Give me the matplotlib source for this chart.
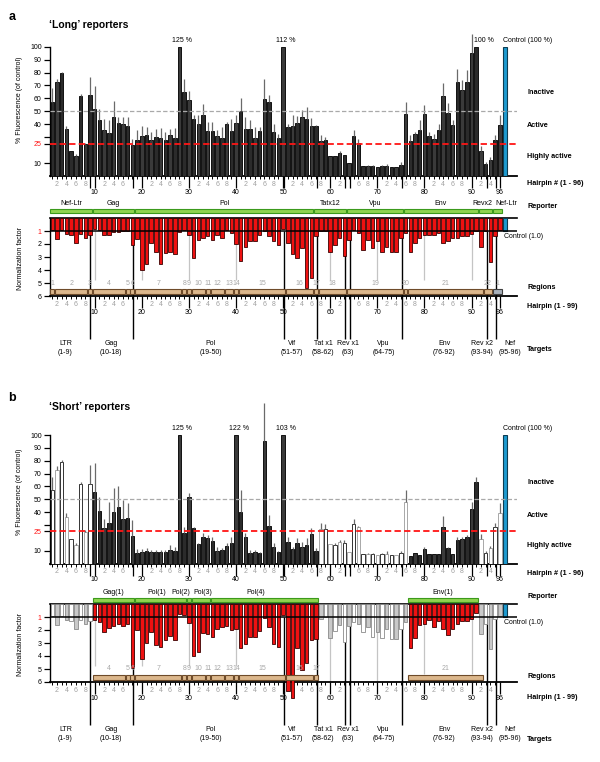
import numpy as np
import matplotlib
matplotlib.use("Agg")
import matplotlib.pyplot as plt
from matplotlib.patches import Rectangle
from matplotlib.transforms import blended_transform_factory as blend

plt.rcParams['font.family'] = ['Liberation Sans', 'DejaVu Sans']
plt.rcParams['font.size'] = 5

# ---------------- data ----------------
hairpins = np.arange(1, 97)

long_fluor = [57.3, 72.8, 79.3, 36.6, 19.3, 15.2, 62.0, 25.0, 62.5, 52.0,
              43.0, 35.3, 33.5, 45.7, 41.0, 40.0, 39.0, 23.7, 27.6, 30.7,
              32.0, 28.0, 30.2, 29.7, 27.6, 31.5, 29.4, 125.0, 65.0, 58.6,
              44.0, 40.5, 47.2, 34.6, 34.6, 30.7, 29.7, 40.0, 34.6, 41.3,
              50.0, 36.4, 36.0, 29.4, 34.6, 59.6, 57.3, 33.8, 29.4, 112.0,
              38.0, 38.7, 41.0, 45.7, 43.9, 38.5, 38.5, 26.8, 27.6, 15.4,
              15.2, 18.0, 16.0, 10.0, 30.7, 25.5, 7.4, 7.4, 7.4, 6.9,
              7.4, 7.9, 6.9, 6.9, 8.2, 48.3, 26.8, 32.8, 35.3, 48.3,
              30.7, 28.9, 35.9, 61.7, 49.0, 39.2, 72.8, 66.4, 72.8, 94.8,
              100.0, 19.3, 9.0, 12.0, 28.0, 39.2]
long_err = [10.4, 2.6, 1.3, 2.4, 0, 1.5, 1.8, 0.5, 14.2, 17.5,
            9.0, 8.7, 9.5, 12.3, 4.7, 6.0, 6.7, 5.2, 7.7, 7.8,
            6.0, 6.0, 6.4, 7.7, 6.2, 5.1, 7.8, 0, 10.4, 7.0,
            3.0, 6.5, 8.8, 7.2, 7.2, 4.6, 8.3, 1.8, 9.4, 5.7,
            10.0, 9.6, 7.0, 8.6, 3.4, 15.1, 5.7, 6.2, 3.4, 0,
            2.5, 8.3, 5.2, 5.3, 9.6, 6.0, 0.8, 5.2, 2.6, 0,
            0, 1.0, 0, 0, 4.6, 3.4, 0, 1.1, 1.1, 0,
            1.1, 1.1, 0, 0, 2.6, 9.0, 4.7, 1.3, 7.7, 6.4,
            3.4, 3.9, 4.6, 9.9, 7.6, 3.8, 9.6, 7.6, 9.2, 15.2,
            0, 3.7, 1.8, 2.6, 4.0, 7.8]
long_norm = [0.9, 1.63, 0.9, 1.2, 1.3, 1.9, 1.2, 1.5, 1.3, 0.85,
             0.9, 1.3, 1.3, 1.1, 1.1, 1.03, 1.03, 2.07, 1.63, 4.0,
             3.5, 1.9, 2.6, 3.5, 2.7, 2.6, 2.8, 1.1, 0.9, 1.3,
             3.1, 1.7, 1.55, 1.4, 1.7, 1.3, 1.5, 0.9, 1.15, 2.0,
             3.3, 2.25, 1.8, 1.8, 1.3, 1.03, 1.37, 1.75, 2.07, 0.85,
             1.95, 2.8, 3.1, 2.3, 5.4, 4.6, 1.4, 1.03, 1.03, 2.6,
             2.1, 1.5, 2.9, 1.7, 0.9, 1.15, 2.45, 1.7, 2.3, 1.8,
             2.6, 2.2, 2.65, 2.65, 1.5, 1.15, 2.65, 1.9, 1.5, 1.3,
             1.3, 1.3, 1.15, 1.9, 1.8, 1.55, 1.5, 1.4, 1.37, 1.2,
             1.03, 2.2, 1.03, 3.35, 1.4, 0.9]

short_fluor = [57.2, 72.8, 79.3, 36.0, 18.8, 14.4, 61.6, 24.8, 61.9, 56.0,
               40.9, 27.4, 31.3, 40.3, 44.2, 34.4, 35.7, 21.4, 8.4, 8.7,
               10.0, 9.2, 8.7, 9.2, 8.7, 10.5, 10.0, 125.0, 24.0, 51.5,
               27.4, 15.2, 20.4, 20.0, 17.5, 9.7, 10.5, 13.6, 15.7, 122.0,
               39.8, 20.9, 8.4, 8.7, 8.4, 95.6, 29.2, 12.6, 9.2, 103.0,
               16.5, 11.5, 15.7, 13.1, 14.4, 23.0, 9.7, 26.6, 26.6, 14.9,
               14.4, 17.0, 15.7, 9.2, 30.5, 28.4, 7.1, 7.1, 7.1, 6.6,
               7.1, 7.4, 6.6, 6.6, 7.9, 47.6, 6.1, 7.9, 6.6, 11.0,
               7.4, 7.4, 7.4, 28.7, 12.3, 7.4, 18.3, 19.1, 20.4, 42.2,
               63.2, 18.8, 7.9, 11.8, 28.2, 39.0]
short_err = [10.4, 3.0, 1.3, 3.1, 0, 1.8, 2.1, 1.3, 14.7, 22.0,
             11.1, 7.6, 16.7, 18.2, 16.1, 15.0, 11.1, 12.5, 2.6, 2.3,
             1.8, 1.3, 1.8, 1.3, 1.8, 3.9, 3.0, 0, 4.7, 3.5,
             1.3, 0.5, 3.1, 2.0, 3.4, 3.3, 1.8, 2.1, 5.2, 0,
             17.2, 2.6, 2.1, 1.8, 0.3, 29.0, 8.5, 3.1, 0.5, 0,
             4.4, 1.5, 4.3, 3.9, 5.2, 4.4, 2.1, 4.7, 4.2, 0,
             1.3, 1.3, 2.6, 0, 4.1, 0.6, 0, 0.8, 0.8, 0,
             0.8, 2.1, 0, 0, 2.1, 9.6, 0, 0, 0, 2.1,
             0, 0, 0, 8.3, 0.8, 0, 2.6, 1.8, 1.8, 5.9,
             3.8, 3.9, 2.1, 2.1, 3.6, 7.8]
short_norm = [0.9, 1.6, 0.9, 1.2, 1.3, 1.9, 1.2, 1.5, 1.3, 1.26,
              1.4, 2.16, 1.85, 1.67, 1.55, 1.73, 1.5, 4.95, 2.0, 4.2,
              3.0, 2.16, 3.17, 3.3, 2.76, 2.45, 2.8, 0.77, 0.88, 1.47,
              4.0, 3.66, 2.2, 2.3, 2.55, 1.93, 1.8, 1.73, 2.0, 1.9,
              3.35, 3.07, 2.55, 2.5, 2.06, 1.08, 1.8, 3.1, 3.3, 0.82,
              6.67, 7.2, 3.4, 5.1, 4.5, 2.8, 2.7, 1.16, 1.0, 2.65,
              2.1, 1.6, 2.9, 1.7, 1.4, 1.5, 2.15, 1.75, 2.5, 2.15,
              2.65, 1.9, 2.7, 2.7, 1.9, 1.4, 3.4, 2.65, 1.6, 1.57,
              1.24, 1.75, 1.3, 1.9, 2.35, 1.9, 1.5, 1.3, 1.3, 1.16,
              0.72, 2.27, 1.5, 3.43, 1.16, 0.9]

control_fluor = 100.0
control_norm = 1.0

long_reporters = [("Nef-Ltr", 1, 9), ("Gag", 10, 18), ("Pol", 19, 56), ("Tatx12", 57, 63),
                  ("Vpu", 64, 75), ("Env", 76, 91), ("Revx2", 92, 94), ("Nef-Ltr", 95, 96)]
short_reporters = [("Gag(1)", 10, 18), ("Pol(1)", 19, 29), ("Pol(2)", 30, 30), ("Pol(3)", 31, 34),
                   ("Pol(4)", 35, 57), ("Env(1)", 77, 91)]

long_regions = [("1", 1, 1), ("2", 2, 8), ("3", 9, 9), ("4", 10, 16), ("5", 17, 17), ("6", 18, 18),
                ("7", 19, 28), ("8", 29, 29), ("9", 30, 30), ("10", 31, 33), ("11", 34, 34),
                ("12", 35, 37), ("13", 38, 39), ("14", 40, 40), ("15", 41, 50), ("16", 51, 56),
                ("17", 57, 57), ("18", 58, 63), ("19", 64, 75), ("20", 76, 76), ("21", 77, 92),
                ("22", 93, 94), ("1", 95, 96)]
short_regions = [("4", 10, 16), ("5", 17, 17), ("6", 18, 18), ("7", 19, 28), ("8", 29, 29),
                 ("9", 30, 30), ("10", 31, 33), ("11", 34, 34), ("12", 35, 37), ("13", 38, 39),
                 ("14", 40, 40), ("15", 41, 50), ("16", 51, 56), ("17", 57, 57), ("21", 77, 92)]

target_names = ["LTR", "Gag", "Pol", "Vif", "Tat x1", "Rev x1", "Vpu", "Env", "Rev x2", "Nef"]
target_ranges = ["(1-9)", "(10-18)", "(19-50)", "(51-57)", "(58-62)", "(63)", "(64-75)",
                 "(76-92)", "(93-94)", "(95-96)"]

# ---------------- layout (pixels) ----------------
W, H = 600, 762
fig = plt.figure(figsize=(6, 7.62), dpi=100)

def n_at(x):
    return 10 + (x - 94.7) / 4.71

XL, XR = 50, 517
XMIN, XMAX = n_at(XL), n_at(XR)
CTRL_X = 97.1
BW = 0.74
target_lines = [9.1, 18.1, 50.1, 57.3, 63.2, 64.2, 75.3, 93.2, 95.2]
target_text_x = [3.8, 13.5, 34.6, 51.8, 58.5, 63.7, 71.3, 84.2, 92.3, 98.2]
long_rep_label_x = {6: 92.3, 7: 97.4}
short_rep_label_x = {1: 23.2, 2: 28.3, 3: 32.9, 4: 44.2}

def axes_px(t, b):
    return fig.add_axes([XL / W, 1 - b / H, (XR - XL) / W, (b - t) / H])

def ftext(x, y, s, **kw):
    fig.text(x / W, 1 - y / H, s, **kw)

MAJ = [10, 20, 30, 40, 50, 60, 70, 80, 90, 96]
SKIP = {18, 64}

def setup_x(ax):
    ax.set_xlim(XMIN, XMAX)
    minors = [n for n in range(1, 97) if n not in MAJ]
    ax.set_xticks(MAJ)
    ax.set_xticklabels([str(m) for m in MAJ])
    ax.set_xticks(minors, minor=True)
    ax.set_xticklabels([str(n % 10) if (n % 2 == 0 and n not in SKIP) else '' for n in minors],
                       minor=True)
    ax.tick_params(axis='x', which='major', length=8.6, width=0.9, pad=0.4, labelsize=5,
                   labelcolor='black', direction='out')
    ax.tick_params(axis='x', which='minor', length=2.4, width=0.7, pad=0.9, labelsize=5,
                   labelcolor='#a0a0a0', direction='out')

def draw_top(t100, t0, fluor, err, dark, pct_dx):
    ax = axes_px(t100, t0)
    upp = (t0 - t100) / 100.0
    vals = np.array(fluor, float)
    shown = np.minimum(vals, 100)
    e = np.array(err, float)
    fills, edges = [], []
    for n, d in zip(hairpins, dark):
        if d:
            fills.append('#2b2b2b' if n % 2 else '#3a3a3a')
            edges.append('#111111')
        else:
            fills.append('white')
            edges.append('#333333' if n % 2 else '#a8a8a8')
    ax.bar(hairpins, shown, width=BW, color=fills, edgecolor=edges, linewidth=0.7, zorder=3)
    m = e > 0
    ax.vlines(hairpins[m], shown[m], shown[m] + e[m], colors='#6a6a6a', lw=0.9, zorder=3.5,
              clip_on=False)
    ax.bar([CTRL_X], [control_fluor], width=BW, color='#1d9bd0', edgecolor='#0d3d52',
           linewidth=0.8, zorder=3)
    ax.axhline(50, color='#a9a9a9', ls=(0, (3.5, 1.8)), lw=0.9, zorder=4)
    ax.axhline(25, color='#ff1515', ls=(0, (3.5, 1.8)), lw=1.3, zorder=4)
    ax.set_ylim(0, 100)
    for s in ['top', 'right']:
        ax.spines[s].set_visible(False)
    ax.spines['left'].set_linewidth(1.0)
    ax.spines['bottom'].set_linewidth(1.3)
    ax.set_yticks([10, 25, 30, 40, 50, 60, 70, 80, 90, 100])
    ax.set_yticklabels(['10', '25', '', '40', '50', '60', '70', '80', '90', '100'])
    ax.get_yticklabels()[1].set_color('#ff1515')
    ax.tick_params(axis='y', length=4.2, width=0.9, pad=1.8, labelsize=5)
    setup_x(ax)
    ax.vlines(target_lines, 0, -12.3 / upp, colors='k', lw=0.9, clip_on=False, zorder=2)
    ly = 100 + 6.0 / upp
    for n, v in zip(hairpins, vals):
        if v >= 100:
            ax.text(n + pct_dx.get(int(n), 0.6), ly, f"{v:.0f} %", ha='center', va='center',
                    fontsize=5)
    ax.text(n_at(502.7), ly, "Control (100 %)", ha='left', va='center', fontsize=5)
    return ax

def draw_bottom(b0, b6, norm, red, reporters, rep_lx, regions, rep_label, rep_box, gray_ends):
    ax = axes_px(b0, b6)
    v = np.array(norm, float)
    fills, edges = [], []
    for n, r in zip(hairpins, red):
        if r:
            fills.append('#ee1111')
            edges.append('#3a0000')
        else:
            fills.append('white' if n % 2 else '#c9c9c9')
            edges.append('#8a8a8a')
    ax.bar(hairpins, v, width=BW, color=fills, edgecolor=edges, linewidth=0.6, zorder=3,
           clip_on=False)
    ax.bar([CTRL_X], [control_norm], width=BW, color='#1d9bd0', edgecolor='#0d3d52',
           linewidth=0.8, zorder=3)
    ax.set_ylim(6, 0)
    ax.axhline(1, color='k', lw=1.1, zorder=4)
    ax.spines['right'].set_visible(False)
    ax.spines['top'].set_linewidth(1.2)
    ax.spines['left'].set_linewidth(1.0)
    ax.spines['bottom'].set_linewidth(1.3)
    ax.set_yticks([1, 2, 3, 4, 5, 6])
    ax.get_yticklabels()[0].set_color('#ff1515')
    ax.tick_params(axis='y', length=4.2, width=0.9, pad=1.8, labelsize=5)
    setup_x(ax)
    for x, end in gray_ends:
        ax.vlines([x], 1, end, colors='#c4c4c4', lw=0.9, zorder=1)
    ax.vlines(target_lines, 1, 9.3, colors='k', lw=1.0, zorder=1, clip_on=False)
    # reporter boxes
    for i, (name, s, e) in enumerate(reporters):
        ax.add_patch(Rectangle((s - 0.4, rep_box - 0.16), e - s + 0.8, 0.32, facecolor='#8fd44f',
                               edgecolor='#3b9a1c', lw=0.8, clip_on=False, zorder=5))
        ax.text(rep_lx.get(i, (s + e) / 2), rep_label, name, ha='center', va='center',
                fontsize=5, zorder=5)
    # region boxes
    for name, s, e in regions:
        last_gray = (name == "1" and s > 90)
        ax.add_patch(Rectangle((s - 0.4, 5.62 - 0.19), e - s + 0.8, 0.38,
                               facecolor='#a7b0ba' if last_gray else '#dcb78c',
                               edgecolor='#3f3f3f' if last_gray else '#6e4b2a', lw=0.8,
                               clip_on=False, zorder=5))
        ax.text((s + e) / 2, 5.0, name, ha='center', va='center', fontsize=5,
                color='#a8a8a8', zorder=5)
    ax.text(n_at(504), 1.42, "Control (1.0)", ha='left', va='center', fontsize=5)
    for x, nm, rg in zip(target_text_x, target_names, target_ranges):
        ax.text(x, 10.0, nm + "\n" + rg, ha='center', va='center', fontsize=5,
                linespacing=1.25, clip_on=False)
    return ax

# ---------------- panel a ----------------
dark_a = [True] * 96
draw_top(46.7, 176, long_fluor, long_err, dark_a, {91: 1.7})
red_a = [True] * 96
gray_a = [(10, 4.8), (20, 4.8), (30, 4.8), (40, 4.8), (60, 4.8), (70, 4.8), (80, 4.8), (90, 4.8)]
draw_bottom(218, 296, long_norm, red_a, long_reporters, long_rep_label_x, long_regions,
            -1.08, -0.54, gray_a)

# ---------------- panel b ----------------
def in_rep(n, reps):
    return any(s <= n <= e for _, s, e in reps)
dark_b = [in_rep(n, short_reporters) for n in hairpins]
draw_top(435, 563.5, short_fluor, short_err, dark_b, {})
gray_b = [(10, 4.8), (20, 4.8), (30, 4.8), (40, 4.8), (60, 6.0), (70, 6.0), (80, 5.4), (90, 5.4)]
draw_bottom(604, 682, short_norm, dark_b, short_reporters, short_rep_label_x, short_regions,
            -0.92, -0.33, gray_b)

# ---------------- texts ----------------
ftext(12.3, 16.7, "a", fontsize=9, fontweight='bold', ha='center', va='center')
ftext(49, 24.7, "\u2018Long\u2019 reporters", fontsize=7.5, fontweight='bold', ha='left', va='center')
ftext(12.3, 398, "b", fontsize=9, fontweight='bold', ha='center', va='center')
ftext(49, 406.5, "\u2018Short\u2019 reporters", fontsize=7.5, fontweight='bold', ha='left', va='center')

ftext(20, 100, "% Fluorescence (of control)", rotation=90, ha='center', va='center', fontsize=5)
ftext(20, 258, "Normalization factor", rotation=90, ha='center', va='center', fontsize=5)
ftext(20, 491.7, "% Fluorescence (of control)", rotation=90, ha='center', va='center', fontsize=5)
ftext(20, 644.7, "Normalization factor", rotation=90, ha='center', va='center', fontsize=5)

right_a = [("Inactive", 92.7), ("Active", 125.3), ("Highly active", 156), ("Hairpin # (1 - 96)", 183.5),
           ("Reporter", 207), ("Regions", 287), ("Hairpin (1 - 99)", 307), ("Targets", 350)]
right_b = [("Inactive", 482.7), ("Active", 515.3), ("Highly active", 545.7),
           ("Hairpin # (1 - 96)", 573.3), ("Reporter", 596), ("Regions", 676.7),
           ("Hairpin (1 - 99)", 697.3), ("Targets", 739.3)]
for s, y in right_a + right_b:
    ftext(527, y, s, fontsize=5.2, fontweight='bold', ha='left', va='center')

fig.savefig("out.png", dpi=100)
